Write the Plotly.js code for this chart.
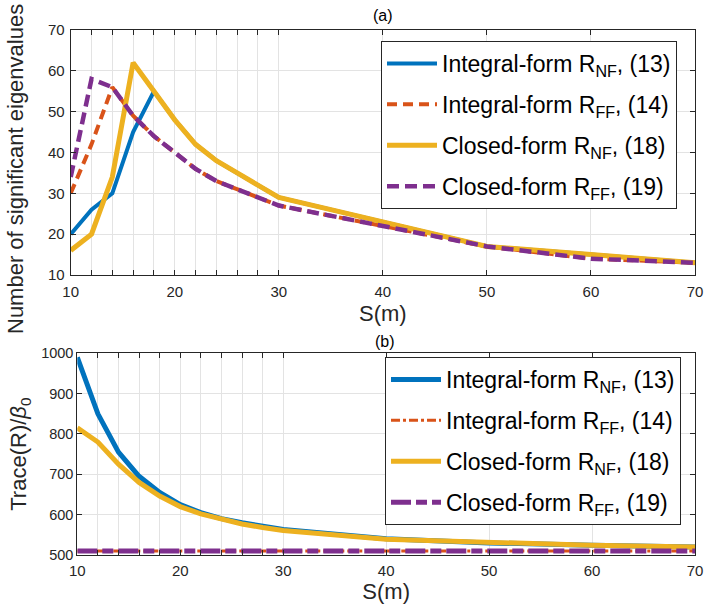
<!DOCTYPE html>
<html>
<head>
<meta charset="utf-8">
<script src="https://cdn.plot.ly/plotly-3.0.1.min.js"></script>
<style>html,body{margin:0;padding:0;background:#fff}#chart{width:706px;height:608px}</style>
</head>
<body>
<div id="chart"></div>
<script>
// ---- data ----
const S = [10,12,14,16,18,20,22,24,26,28,30,40,50,60,70];
const eigIntegralNF = [20,26,30,45,55,48,42,38,35,32,29,23,17,15,13];
const eigIntegralFF = [30,42,56,49,44,40,36,33,31,29,27,22,17,14,13];
const eigClosedNF   = [16,20,34,62,55,48,42,38,35,32,29,23,17,15,13];
const eigClosedFF   = [34,58,56,49,44,40,36,33,31,29,27,22,17,14,13];

const trIntegralNF = [990,850,755,695,655,625,605,590,580,570,563,540,530,524,520];
const trIntegralFF = [510,510,510,510,510,510,510,510,510,510,510,510,510,510,510];
const trClosedNF   = [815,780,725,680,646,620,602,588,577,568,561,539,530,524,520];
const trClosedFF   = [510,510,510,510,510,510,510,510,510,510,510,510,510,510,510];

const names = ['Integral-form R<sub>NF</sub>, (13)','Integral-form R<sub>FF</sub>, (14)',
               'Closed-form R<sub>NF</sub>, (18)','Closed-form R<sub>FF</sub>, (19)'];
const xMajorTicks = [10,20,30,40,50,60,70];
const xMinorTicks = [12,14,16,18,22,24,26,28];
const yTopTicks = [10,20,30,40,50,60,70];
const yBotTicks = [500,600,700,800,900,1000];

const blue='#0072BD', orange='#D95319', yellow='#EDB120', purple='#7E2F8E';

const traces = [
  {x:S,y:eigIntegralNF,name:names[0],legendgroup:'a1',line:{color:blue,width:4},xaxis:'x',yaxis:'y',legend:'legend'},
  {x:S,y:eigIntegralFF,name:names[1],legendgroup:'a2',line:{color:orange,width:4,dash:'10px,6px'},xaxis:'x',yaxis:'y',legend:'legend'},
  {x:S,y:eigClosedNF,name:names[2],legendgroup:'a3',line:{color:yellow,width:5},xaxis:'x',yaxis:'y',legend:'legend'},
  {x:S,y:eigClosedFF,name:names[3],legendgroup:'a4',line:{color:purple,width:4.5,dash:'12px,6px'},xaxis:'x',yaxis:'y',legend:'legend'},
  {x:S,y:trIntegralNF,name:names[0],legendgroup:'b1',line:{color:blue,width:5},xaxis:'x2',yaxis:'y2',legend:'legend2'},
  {x:S,y:trIntegralFF,name:names[1],legendgroup:'b2',line:{color:orange,width:3,dash:'dashdot'},xaxis:'x2',yaxis:'y2',legend:'legend2'},
  {x:S,y:trClosedNF,name:names[2],legendgroup:'b3',line:{color:yellow,width:5},xaxis:'x2',yaxis:'y2',legend:'legend2'},
  {x:S,y:trClosedFF,name:names[3],legendgroup:'b4',line:{color:purple,width:5,dash:'20px,5px,11px,5px'},xaxis:'x2',yaxis:'y2',legend:'legend2'}
].map(t => Object.assign({type:'scatter',mode:'lines'}, t));

const axCommon = {
  showline:true, linecolor:'#262626', linewidth:1, mirror:'ticks',
  ticks:'inside', ticklen:5, tickcolor:'#262626',
  showgrid:true, gridcolor:'#e3e3e3', gridwidth:1, zeroline:false, automargin:false,
  tickfont:{family:'Liberation Sans, Arial, sans-serif', size:15, color:'#262626'}
};
const xMinor = {tickmode:'array', tickvals:xMinorTicks, ticks:'inside', ticklen:5, tickcolor:'#262626',
  showgrid:true, gridcolor:'#e3e3e3', gridwidth:1};

const W=706, H=608;
const layout = {
  width:W, height:H, margin:{l:0,r:0,t:0,b:0}, paper_bgcolor:'#fff', plot_bgcolor:'#fff',
  font:{family:'Liberation Sans, Arial, sans-serif', color:'#000'},
  showlegend:true,
  xaxis: Object.assign({}, axCommon, {domain:[70.7/W, 695/W], range:[10,70], anchor:'y',
    tickmode:'array', tickvals:xMajorTicks, minor:xMinor, ticklabelstandoff:3,
    title:{text:'S(m)', font:{size:22,color:'#262626'}, standoff:6}}),
  yaxis: Object.assign({}, axCommon, {domain:[(H-275)/H, (H-30)/H], range:[10,70], anchor:'x',
    tickmode:'array', tickvals:yTopTicks, ticklabelstandoff:2}),
  xaxis2: Object.assign({}, axCommon, {domain:[77.3/W, 695/W], range:[10,70], anchor:'y2',
    tickmode:'array', tickvals:xMajorTicks, minor:xMinor, ticklabelstandoff:2,
    title:{text:'S(m)', font:{size:22,color:'#262626'}, standoff:4}}),
  yaxis2: Object.assign({}, axCommon, {domain:[(H-555)/H, (H-353.3)/H], range:[500,1000], anchor:'x2',
    tickmode:'array', tickvals:yBotTicks, tickfont:{family:'Liberation Sans, Arial, sans-serif', size:14.5, color:'#262626'},
    title:{text:'Trace(R)/<i>\u03b2</i><sub>0</sub>', font:{size:22,color:'#262626'}, standoff:8}}),
  legend:{x:381/W, y:(H-41)/H, xanchor:'left', yanchor:'top', bgcolor:'#fff', bordercolor:'#262626', borderwidth:1,
    font:{size:23,color:'#000'}, tracegroupgap:8, itemwidth:50},
  legend2:{x:385/W, y:(H-357)/H, xanchor:'left', yanchor:'top', bgcolor:'#fff', bordercolor:'#262626', borderwidth:1,
    font:{size:23,color:'#000'}, tracegroupgap:8, itemwidth:50},
  annotations:[
    {text:'(a)', xref:'paper', yref:'paper', x:383/W, y:(H-15)/H, showarrow:false, font:{size:16,color:'#000'}, xanchor:'center', yanchor:'middle'},
    {text:'(b)', xref:'paper', yref:'paper', x:385/W, y:(H-341)/H, showarrow:false, font:{size:16,color:'#000'}, xanchor:'center', yanchor:'middle'},
    {text:'Number of significant eigenvalues', xref:'paper', yref:'paper', x:15/W, y:(H-169)/H, textangle:-90,
     showarrow:false, font:{size:22,color:'#262626'}, xanchor:'center', yanchor:'middle'}
  ]
};

Plotly.newPlot('chart', traces, layout, {displayModeBar:false, staticPlot:true});
</script>
</body>
</html>
